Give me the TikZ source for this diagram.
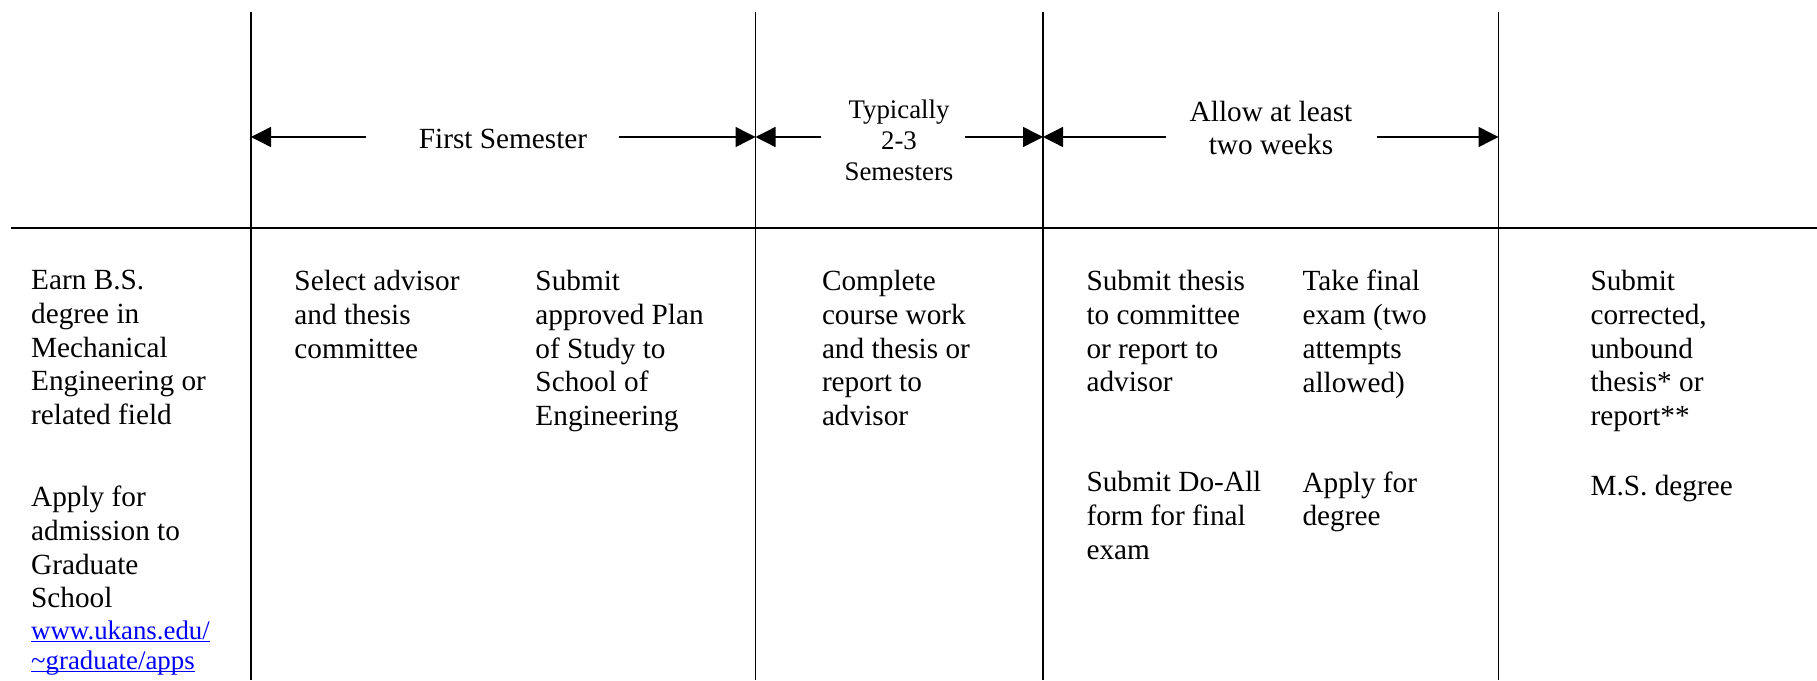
\documentclass[tikz,border=0pt]{standalone}
\usepackage{fontspec}
\setmainfont{Liberation Serif}
\usetikzlibrary{arrows.meta}
\definecolor{linkblue}{RGB}{0,0,255}
\newcommand\linkline[1]{\leavevmode\setbox0\hbox{#1}\rlap{\rule[-1.3pt]{\wd0}{0.45pt}}\box0}
\tikzset{
  >={Triangle[length=8.2pt, width=8.2pt]},
  rule/.style={line width=0.7pt},
  span/.style={->, line width=0.55pt},
  % first baseline sits on the given point
  txt/.style={inner sep=0pt, execute at begin node=\strut},
  task/.style={txt, anchor=north west, align=left, yshift=8.06pt,
    font=\fontsize{12}{13.86}\selectfont},
  link/.style={txt, anchor=north west, align=left, yshift=7.0pt,
    text=linkblue, font=\fontsize{11}{12.3}\selectfont},
  head/.style={txt, anchor=north, align=center, yshift=8.1pt,
    font=\fontsize{12}{13.9}\selectfont},
  smallhead/.style={txt, anchor=north, align=center, yshift=7.4pt,
    font=\fontsize{11}{12.9}\selectfont},
}

\begin{document}
\begin{tikzpicture}[x=0.41pt, y=-0.41pt]
        \useasboundingbox (0,0) rectangle (1817,680);

        % grid
        \coordinate (v1) at (251,11.6);
        \coordinate (v2) at (755.5,11.6);
        \coordinate (v3) at (1043,11.6);
        \coordinate (v4) at (1498.5,11.6);
        \coordinate (hl) at (11,228.3);
        \coordinate (hr) at (1817,228.3);
        \foreach \v in {v1,v2,v3,v4}
          \draw[rule] (\v) -- (\v |- 0,680);
        \draw[line width=0.85pt] (hl) -- (hr);

        % spans
        \node[head] (first) at (503,144) {First Semester};
        \node[smallhead] (typ) at (899,117) {Typically\\2-3\\Semesters};
        \node[head] (allow) at (1271,120) {Allow at least\\two weeks};

        \coordinate (first l) at (366,137);
        \coordinate (first r) at (619,137);
        \coordinate (typ l) at (821,137);
        \coordinate (typ r) at (965,137);
        \coordinate (allow l) at (1166,137);
        \coordinate (allow r) at (1377,137);

        \draw[span] (first l) -- (first l -| v1);
        \draw[span] (first r) -- (first r -| v2);
        \draw[span] (typ l) -- (typ l -| v2);
        \draw[span] (typ r) -- (typ r -| v3);
        \draw[span] (allow l) -- (allow l -| v3);
        \draw[span] (allow r) -- (allow r -| v4);

        % steps
        \node[task] (earn) at (30.7,289.3) {Earn B.S.\\degree in\\Mechanical\\Engineering or\\related field};
        \node[task] (apply) at (30.7,505) {Apply for\\admission to\\Graduate\\School};
        \node[link] (url) at (30.7,637)
          {\linkline{www.ukans.edu/}\\\linkline{\textasciitilde graduate/apps}};
        \node[task] (select) at (294,289.3) {Select advisor\\and thesis\\committee};
        \node[task] (plan) at (535,289.3) {Submit\\approved Plan\\of Study to\\School of\\Engineering};
        \node[task] (course) at (821.5,289.3) {Complete\\course work\\and thesis or\\report to\\advisor};
        \node[task] (thesis) at (1086,289.3) {Submit thesis\\to committee\\or report to\\advisor};
        \node[task] (exam) at (1302,289.3) {Take final\\exam (two\\attempts\\allowed)};
        \node[task] (doall) at (1086,490.7) {Submit Do-All\\form for final\\exam};
        \node[task] (degree) at (1302,490.7) {Apply for\\degree};
        \node[task] (corrected) at (1590,289.3) {Submit\\corrected,\\unbound\\thesis* or\\report**};
        \node[task] (ms) at (1590,490.7) {M.S. degree};

      \end{tikzpicture}
\end{document}
